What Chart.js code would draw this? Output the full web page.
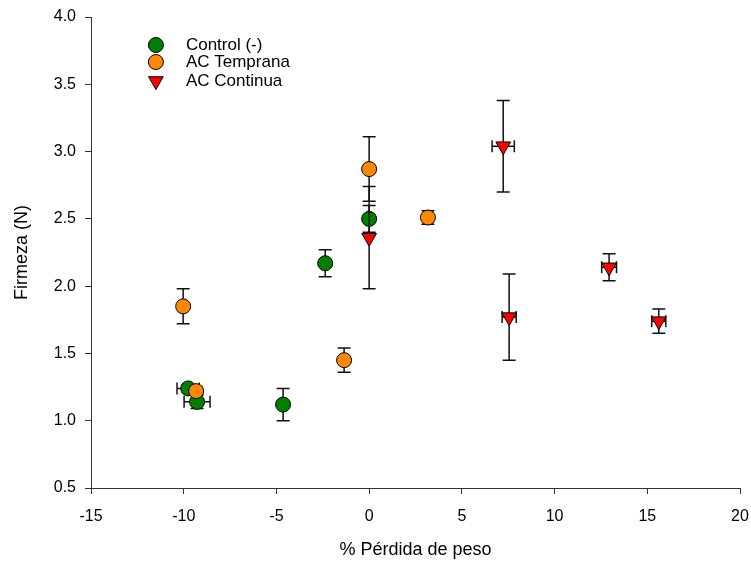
<!DOCTYPE html>
<html>
<head>
<meta charset="utf-8">
<script src="https://cdn.jsdelivr.net/npm/chart.js@4/dist/chart.umd.min.js"></script>
<style>
html,body{margin:0;padding:0;background:#fff;}
#wrap{width:751px;height:565px;position:relative;}
</style>
</head>
<body>
<div id="wrap"><canvas id="c" width="751" height="565"></canvas></div>
<script>
// ---- data ----
const seriesNames = ["Control (-)", "AC Temprana", "AC Continua"];
const controlX    = [-9.76, -9.28, -4.64, -2.37, 0.0];
const controlY    = [1.24, 1.14, 1.12, 2.17, 2.50];
const controlXErr = [0.6, 0.7, 0, 0, 0];
const controlYErr = [0.03, 0.05, 0.12, 0.10, 0.10];

const tempranaX    = [-10.03, -9.33, -1.35, 0.0, 3.17];
const tempranaY    = [1.85, 1.22, 1.45, 2.87, 2.51];
const tempranaXErr = [0, 0, 0, 0, 0];
const tempranaYErr = [0.13, 0.03, 0.09, 0.24, 0.05];

const continuaX    = [0.0, 7.23, 7.55, 12.94, 15.62];
const continuaY    = [2.36, 3.04, 1.77, 2.14, 1.74];
const continuaXErr = [0, 0.6, 0.38, 0.4, 0.38];
const continuaYErr = [0.38, 0.34, 0.32, 0.10, 0.09];

const xTicks = [-15, -10, -5, 0, 5, 10, 15, 20];
const yTicks = [0.5, 1.0, 1.5, 2.0, 2.5, 3.0, 3.5, 4.0];

function pts(xs, ys){ return xs.map((x,i)=>({x:x, y:ys[i]})); }

const errs = [
  {xe: controlXErr, ye: controlYErr},
  {xe: tempranaXErr, ye: tempranaYErr},
  {xe: continuaXErr, ye: continuaYErr}
];

const FONT = '"Liberation Sans", Arial, sans-serif';

const errorBars = {
  id: 'errorBars',
  beforeDatasetDraw(chart, args){
    const i = args.index;
    const e = errs[i];
    const ds = chart.data.datasets[i];
    const xs = chart.scales.x, ys = chart.scales.y;
    const ctx = chart.ctx;
    ctx.save();
    ctx.strokeStyle = '#111';
    ctx.lineWidth = 1.5;
    ds.data.forEach((p, k) => {
      const px = xs.getPixelForValue(p.x), py = ys.getPixelForValue(p.y);
      const ye = e.ye[k], xe = e.xe[k];
      if (ye > 0) {
        const t = ys.getPixelForValue(p.y + ye), b = ys.getPixelForValue(p.y - ye);
        ctx.beginPath();
        ctx.moveTo(px, t); ctx.lineTo(px, b);
        ctx.moveTo(px - 6.5, t); ctx.lineTo(px + 6.5, t);
        ctx.moveTo(px - 6.5, b); ctx.lineTo(px + 6.5, b);
        ctx.stroke();
      }
      if (xe > 0) {
        const l = xs.getPixelForValue(p.x - xe), r = xs.getPixelForValue(p.x + xe);
        ctx.beginPath();
        ctx.moveTo(l, py); ctx.lineTo(r, py);
        ctx.moveTo(l, py - 6); ctx.lineTo(l, py + 6);
        ctx.moveTo(r, py - 6); ctx.lineTo(r, py + 6);
        ctx.stroke();
      }
    });
    ctx.restore();
  }
};

const customLegend = {
  id: 'customLegend',
  afterDraw(chart){
    const ctx = chart.ctx;
    const x0 = chart.scales.x.getPixelForValue(-11.5);
    const ys = [45, 62, 81];
    ctx.save();
    chart.data.datasets.forEach((ds, i) => {
      const y = ys[i];
      ctx.fillStyle = ds.backgroundColor;
      ctx.strokeStyle = '#000';
      ctx.lineWidth = 1;
      ctx.beginPath();
      if (ds.pointStyle === 'circle') {
        ctx.arc(x0, y, ds.pointRadius, 0, Math.PI * 2);
      } else {
        const r = ds.pointRadius;
        ctx.moveTo(x0 - r * 0.866, y - r * 0.5);
        ctx.lineTo(x0 + r * 0.866, y - r * 0.5);
        ctx.lineTo(x0, y + r);
        ctx.closePath();
      }
      ctx.fill(); ctx.stroke();
      ctx.fillStyle = '#000';
      ctx.font = '17px ' + FONT;
      ctx.textBaseline = 'middle';
      ctx.fillText(ds.label, x0 + 30, y);
    });
    ctx.restore();
  }
};

const chart = new Chart(document.getElementById('c'), {
  type: 'scatter',
  data: {
    datasets: [
      {label: seriesNames[0], data: pts(controlX, controlY), backgroundColor: '#008000', borderColor: '#000', borderWidth: 1, pointStyle: 'circle', pointRadius: 7.5, order: 3},
      {label: seriesNames[1], data: pts(tempranaX, tempranaY), backgroundColor: '#FF8800', borderColor: '#000', borderWidth: 1, pointStyle: 'circle', pointRadius: 7.5, order: 2},
      {label: seriesNames[2], data: pts(continuaX, continuaY), backgroundColor: '#FF0000', borderColor: '#000', borderWidth: 1, pointStyle: 'triangle', rotation: 180, pointRadius: 8.5, order: 1}
    ]
  },
  options: {
    responsive: false,
    animation: false,
    layout: {padding: {left: 7, right: 11, top: 17, bottom: 0}},
    plugins: {legend: {display: false}, tooltip: {enabled: false}},
    elements: {point: {hoverRadius: 7.5}},
    scales: {
      x: {
        type: 'linear', min: -15, max: 20,
        afterBuildTicks(s){ s.ticks = xTicks.map(v => ({value: v})); },
        afterFit(s){ s.height = 77; s.paddingLeft = 0; s.paddingRight = 0; },
        ticks: {color: '#000', font: {size: 16, family: FONT}, padding: 13, callback: v => String(v)},
        grid: {drawOnChartArea: false, tickLength: 6, color: '#333', tickWidth: 1},
        border: {color: '#333', width: 1},
        title: {display: true, text: '% Pérdida de peso', color: '#000', font: {size: 18, family: FONT}, padding: {top: 4, bottom: 4}}
      },
      y: {
        type: 'linear', min: 0.5, max: 4.0,
        afterBuildTicks(s){ s.ticks = yTicks.map(v => ({value: v})); },
        afterFit(s){ s.width = 84; s.paddingTop = 0; s.paddingBottom = 0; },
        ticks: {color: '#000', font: {size: 16, family: FONT}, padding: 9, callback: v => Number(v).toFixed(1)},
        grid: {drawOnChartArea: false, tickLength: 6, color: '#333', tickWidth: 1},
        border: {color: '#333', width: 1},
        title: {display: true, text: 'Firmeza (N)', color: '#000', font: {size: 18, family: FONT}, padding: {top: 4, bottom: 4}}
      }
    }
  },
  plugins: [errorBars, customLegend]
});
</script>
</body>
</html>
